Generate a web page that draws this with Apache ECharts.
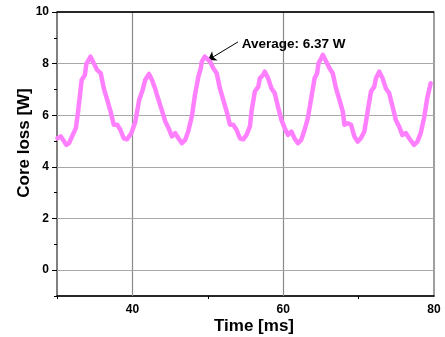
<!DOCTYPE html>
<html><head><meta charset="utf-8">
<script src="https://cdn.jsdelivr.net/npm/echarts@6/dist/echarts.min.js"></script>
<style>html,body{margin:0;padding:0;background:#fff}#c{width:445px;height:337px}</style>
</head><body><div id="c"></div>
<script>
const timeMs = [30.06,30.5,30.8,31.25,31.6,32.0,32.5,32.8,33.27,33.7,33.9,34.2,34.45,34.9,35.3,35.8,36.2,36.66,37.1,37.53,38.0,38.4,38.85,39.3,39.87,40.4,40.9,41.36,41.7,42.2,42.6,43.0,43.26,43.5,43.9,44.36,44.8,45.24,45.68,46.1,46.56,47.0,47.4,47.88,48.3,48.75,49.07,49.2,49.6,49.86,50.3,50.73,51.18,51.6,52.05,52.5,52.94,53.37,53.8,54.26,54.7,55.14,55.58,55.8,56.24,56.7,56.9,57.33,57.56,58.0,58.44,58.88,59.3,59.76,60.2,60.63,61.08,61.5,61.95,62.4,62.84,63.27,63.72,64.16,64.5,64.68,65.04,65.25,65.7,66.14,66.57,67.0,67.46,67.9,68.12,68.55,69.0,69.44,69.87,70.3,70.76,71.2,71.64,72.08,72.3,72.74,73.18,73.6,74.06,74.5,74.94,75.38,75.8,76.26,76.7,77.35,77.8,78.24,78.68,79.1,79.56];
const coreLoss = [5.11,5.18,5.05,4.85,4.92,5.18,5.50,6.15,7.37,7.56,8.0,8.14,8.27,8.0,7.76,7.63,7.05,6.6,6.15,5.63,5.63,5.44,5.11,5.07,5.31,5.76,6.6,6.98,7.37,7.6,7.37,7.05,6.79,6.72,6.2,5.76,5.5,5.18,5.31,5.11,4.92,5.05,5.37,5.95,6.79,7.5,7.82,8.08,8.27,8.34,8.08,7.82,7.63,7.05,6.6,6.15,5.63,5.63,5.44,5.11,5.07,5.24,5.56,6.15,6.92,7.11,7.43,7.56,7.69,7.43,7.05,6.85,6.34,5.82,5.5,5.24,5.37,5.11,4.92,5.05,5.44,5.89,6.66,7.43,7.63,8.01,8.21,8.34,8.08,7.82,7.63,7.05,6.6,6.15,5.63,5.69,5.63,5.18,4.98,5.11,5.37,6.15,6.92,7.11,7.43,7.69,7.43,7.05,6.85,6.34,5.82,5.56,5.24,5.31,5.11,4.85,4.98,5.31,5.89,6.66,7.24];
const xLabelTicks = [40, 60, 80];
const xMinorTicks = [30, 50, 70];
const yLabelTicks = [0, 2, 4, 6, 8, 10];
const yMinorTicks = [-1, 1, 3, 5, 7, 9];
const xGridLines = [40, 60];
const yGridLines = [0, 2, 4, 6, 8];
const topBorder = 10;
const xTitle = 'Time [ms]';
const yTitle = 'Core loss [W]';
const annotationText = 'Average: 6.37 W';
const arrowFrom = [54.0, 8.84];
const arrowTo = [50.03, 8.14];
const textAnchor = [54.5, 8.76];

const FONT = 'Liberation Sans, Arial, Helvetica, sans-serif';
const chart = echarts.init(document.getElementById('c'), null, {renderer: 'canvas'});
const lineData = timeMs.map((t, i) => [t, coreLoss[i]]);
const gridMarks = [].concat(
  xGridLines.map(v => ({xAxis: v, lineStyle: {color: '#8a8a8a', width: 1.2, type: 'solid'}})),
  yGridLines.map(v => ({yAxis: v, lineStyle: {color: '#a8a8a8', width: 1.2, type: 'solid'}})),
  [{yAxis: topBorder, lineStyle: {color: '#000', width: 1.5, type: 'solid'}}]
);
const labelStyle = {fontFamily: FONT, fontWeight: 'bold', fontSize: 12, color: '#000'};
chart.setOption({
  animation: false,
  backgroundColor: '#fff',
  grid: {left: 57, right: 11, top: 12, bottom: 41, show: true, borderColor: '#808080', borderWidth: 1.5, backgroundColor: 'transparent'},
  xAxis: [{
    type: 'value', min: 30, max: 80, interval: 10,
    axisLine: {show: true, onZero: false, lineStyle: {color: '#000', width: 1.5}},
    axisTick: {show: true, customValues: xMinorTicks, length: 3, lineStyle: {color: '#000', width: 1}},
    axisLabel: Object.assign({customValues: xLabelTicks, margin: 8}, labelStyle),
    splitLine: {show: false}
  }],
  yAxis: [{
    type: 'value', min: -1, max: 10, interval: 1,
    axisLine: {show: true, onZero: false, lineStyle: {color: '#808080', width: 2}},
    axisTick: {show: true, customValues: yLabelTicks, length: 5, lineStyle: {color: '#000', width: 1}},
    axisLabel: Object.assign({customValues: yLabelTicks, margin: 8}, labelStyle),
    splitLine: {show: false}
  }, {
    type: 'value', min: -1, max: 10, interval: 1, position: 'left',
    axisLine: {show: false},
    axisTick: {show: true, customValues: yMinorTicks, length: 3, lineStyle: {color: '#000', width: 1}},
    axisLabel: {show: false},
    splitLine: {show: false}
  }],
  graphic: [
    {type: 'text', x: 254, y: 326, style: {text: xTitle, font: 'bold 17px ' + FONT, fill: '#000', align: 'center', verticalAlign: 'middle'}},
    {type: 'text', x: 24.5, y: 143, rotation: Math.PI / 2, style: {text: yTitle, font: 'bold 17px ' + FONT, fill: '#000', align: 'center', verticalAlign: 'middle'}}
  ],
  series: [{
    type: 'line', data: [], z: 1, silent: true,
    markLine: {silent: true, symbol: 'none', animation: false, label: {show: false}, data: gridMarks}
  }, {
    type: 'line', data: lineData, z: 5, showSymbol: false, smooth: false,
    lineStyle: {color: '#ff80ff', width: 4.5, join: 'round', cap: 'round'},
    itemStyle: {color: '#ff80ff'},
    markLine: {
      silent: true, animation: false, symbolSize: 8,
      label: {show: false},
      lineStyle: {color: '#000', width: 1, type: 'solid'},
      data: [[{coord: arrowFrom, symbol: 'none'}, {coord: arrowTo, symbol: 'arrow'}]]
    },
    markPoint: {
      silent: true, animation: false,
      data: [{coord: textAnchor, symbol: 'circle', symbolSize: 0,
        label: {show: true, position: 'right', distance: 0, formatter: annotationText, fontFamily: FONT, fontWeight: 'bold', fontSize: 13.5, color: '#000'}}]
    }
  }]
});
</script></body></html>
